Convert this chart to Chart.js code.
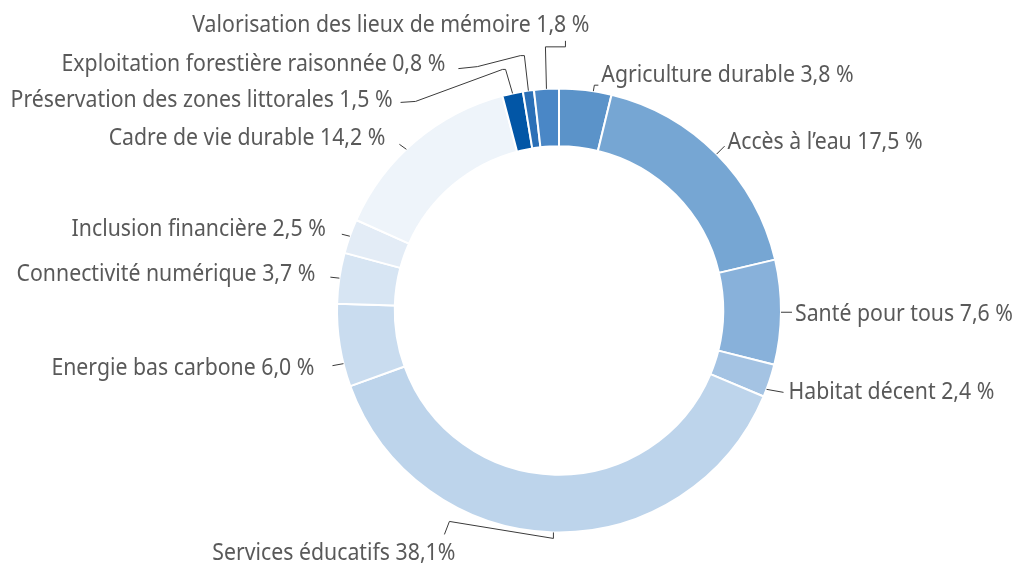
<!DOCTYPE html>
<html lang="fr">
<head>
<meta charset="utf-8">
<script src="https://cdn.jsdelivr.net/npm/chart.js@4.4.1/dist/chart.umd.min.js"></script>
<style>
  html, body { margin: 0; padding: 0; background: #ffffff; }
  #wrap { position: relative; width: 1015px; height: 565px; }
</style>
</head>
<body>
<div id="wrap"><canvas id="c"></canvas></div>
<script>
// ---- data ----
const categories = [
  'Agriculture durable',
  'Accès à l’eau',
  'Santé pour tous',
  'Habitat décent',
  'Services éducatifs',
  'Energie bas carbone',
  'Connectivité numérique',
  'Inclusion financière',
  'Cadre de vie durable',
  'Préservation des zones littorales',
  'Exploitation forestière raisonnée',
  'Valorisation des lieux de mémoire'
];
const shares = [3.8, 17.5, 7.6, 2.4, 38.1, 6.0, 3.7, 2.5, 14.2, 1.5, 0.8, 1.8];
const shareLabels = ['3,8\u00a0%', '17,5\u00a0%', '7,6\u00a0%', '2,4\u00a0%', '38,1%', '6,0\u00a0%',
                     '3,7\u00a0%', '2,5\u00a0%', '14,2\u00a0%', '1,5\u00a0%', '0,8\u00a0%', '1,8\u00a0%'];
const sliceColors = ['#5b93c9', '#76a6d3', '#88b1da', '#a4c3e3', '#bdd4eb', '#c9dcef',
                     '#d7e5f3', '#e3ecf6', '#eef4fa', '#0256a6', '#2b70b7', '#4a87c6'];

// ---- label layout (offsets relative to the point where the connector touches the ring) ----
const labelLayout = [
  { t: 0.65, pts: [[1, -6], [5, -6]], at: [8, -16], align: 'left' },
  { t: 0.5,  pts: [[8, -8]], at: [11, -12], align: 'left' },
  { t: 0.5,  pts: [[11, 0]], at: [14, 2], align: 'left' },
  { t: 0.77, pts: [[17, 3]], at: [22, 3], align: 'left' },
  { t: 0.5,  pts: [[0, 6], [-104, -11], [-109, 2]], at: [-98, 21], align: 'right' },
  { t: 0.28, pts: [[-11, 2]], at: [-29, 4], align: 'right' },
  { t: 0.5,  pts: [[-9, -1]], at: [-24, -4], align: 'right' },
  { t: 0.5,  pts: [[-8, -2]], at: [-24, -7], align: 'right' },
  { t: 0.44, pts: [[-7, -5]], at: [-21, -11], align: 'right' },
  { t: 0.5,  pts: [[-7, -24], [-10, -24], [-97, 8], [-112, 9]], at: [-120, 7], align: 'right' },
  { t: 0.5,  pts: [[-4, -35], [-8, -35], [-51, -24], [-70, -22]], at: [-83, -26], align: 'right' },
  { t: 0.5,  pts: [[-1, -42], [19, -42], [19, -48]], at: [43, -64], align: 'right' }
];

const FONT = '24px "Noto Sans"';
const TEXT_SQUEEZE = 0.886; // semi-condensed look

const outsideLabels = {
  id: 'outsideLabels',
  afterDatasetsDraw(chart) {
    const ctx = chart.ctx;
    const meta = chart.getDatasetMeta(0);
    meta.data.forEach((arc, i) => {
      const L = labelLayout[i];
      const p = arc.getProps(['x', 'y', 'startAngle', 'endAngle', 'outerRadius'], true);
      const a = p.startAngle + (p.endAngle - p.startAngle) * L.t;
      const tx = p.x + Math.cos(a) * p.outerRadius;
      const ty = p.y + Math.sin(a) * p.outerRadius;
      ctx.save();
      ctx.beginPath();
      ctx.moveTo(tx, ty);
      L.pts.forEach(q => ctx.lineTo(tx + q[0], ty + q[1]));
      ctx.strokeStyle = '#3a3a3a';
      ctx.lineWidth = 1;
      ctx.stroke();
      ctx.translate(tx + L.at[0], ty + L.at[1]);
      ctx.scale(TEXT_SQUEEZE, 1);
      ctx.font = FONT;
      ctx.fillStyle = '#595959';
      ctx.textAlign = L.align;
      ctx.textBaseline = 'middle';
      ctx.fillText(categories[i] + ' ' + shareLabels[i], 0, 0);
      ctx.restore();
    });
  }
};

new Chart(document.getElementById('c'), {
  type: 'doughnut',
  data: {
    labels: categories,
    datasets: [{
      data: shares,
      backgroundColor: sliceColors,
      borderColor: '#ffffff',
      borderWidth: 2,
      hoverOffset: 0
    }]
  },
  options: {
    responsive: true,
    maintainAspectRatio: false,
    animation: false,
    cutout: '74%',
    rotation: 0,
    layout: { padding: { top: 87, bottom: 31, left: 336, right: 233 } },
    plugins: { legend: { display: false }, tooltip: { enabled: false } }
  },
  plugins: [outsideLabels]
});
</script>
</body>
</html>
